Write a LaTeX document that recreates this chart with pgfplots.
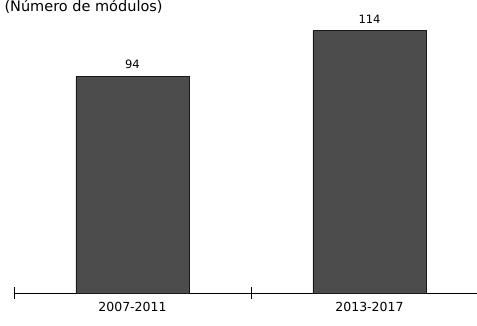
\documentclass[border=0pt]{standalone}
\usepackage{pgfplots}
\pgfplotsset{compat=1.18}
\usepackage{fontspec}
\setmainfont{DejaVu Sans}
\begin{document}
\begin{tikzpicture}
\clip (-14pt,-32pt) rectangle (463pt,293pt);
\begin{axis}[
  scale only axis,
  width=463pt, height=293pt,
  xmin=-0.5, xmax=1.4536,
  ymin=0, ymax=127.4,
  axis x line*=bottom,
  axis y line=none,
  xtick={0,1},
  xticklabels={2007-2011,2013-2017},
  minor xtick={-0.5,0.5},
  major tick length=0pt,
  minor tick length=12pt,
  every minor tick/.append style={yshift=6pt},
  tick style={black, line width=0.8pt},
  x axis line style={black, line width=1pt, -},
  xticklabel style={font=\fontsize{12.5}{14}\selectfont, yshift=-6pt},
  /pgf/number format/assume math mode=true,
  ybar,
  bar width=113pt,
  nodes near coords,
  every node near coord/.append style={font=\fontsize{11.5}{13}\selectfont, yshift=4pt},
  clip=false,
]
\addplot[fill=black!70, draw=black!90, line width=0.8pt] coordinates {(0,94) (1,114)};
\end{axis}
\node[anchor=base west, font=\fontsize{14.5}{16}\selectfont] at (-13pt,282pt) {(Número de módulos)};
\end{tikzpicture}
\end{document}
